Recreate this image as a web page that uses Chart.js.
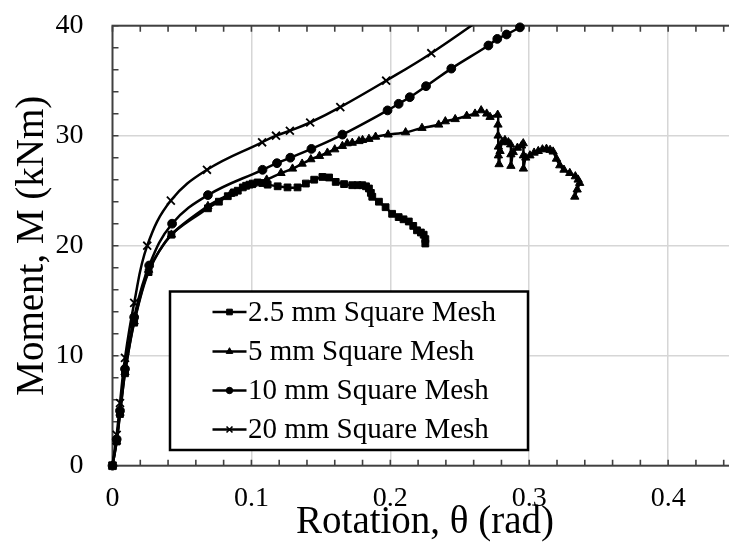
<!DOCTYPE html>
<html><head><meta charset="utf-8">
<script src="https://cdn.jsdelivr.net/npm/chart.js@4/dist/chart.umd.min.js"></script>
<style>
html,body{margin:0;padding:0;overflow:hidden;background:#fff;width:729px;height:554px}
#wrap{width:745px;height:554px}
</style>
</head><body><div id="wrap"><canvas id="c" width="745" height="554"></canvas></div>
<script>
// ---- data (rotation in rad, moment in kNm) ----
const seriesLabels = ['2.5 mm Square Mesh', '5 mm Square Mesh', '10 mm Square Mesh', '20 mm Square Mesh'];

const rot25 = [0,0.003,0.0054,0.009,0.0156,0.026,0.0424,0.0687,0.0766,0.083,0.0875,0.0902,0.0938,0.0962,0.0986,0.101,0.1045,0.108,0.1117,0.1189,0.126,0.1332,0.1392,0.1452,0.1511,0.1559,0.1607,0.1667,0.1726,0.1765,0.1798,0.1825,0.1846,0.186,0.187,0.1918,0.1966,0.2013,0.206,0.2095,0.2133,0.2165,0.2192,0.222,0.224,0.2252,0.2252];
const mom25 = [0,2.2,4.7,8.4,13.0,17.6,21.0,23.4,24.0,24.5,24.85,25.0,25.3,25.45,25.55,25.65,25.75,25.7,25.55,25.4,25.3,25.3,25.65,26.0,26.25,26.2,25.8,25.6,25.5,25.5,25.5,25.4,25.2,24.8,24.45,24.0,23.5,22.9,22.6,22.4,22.2,21.8,21.4,21.2,21.0,20.6,20.2];

const rot5 = [0,0.003,0.0054,0.009,0.0156,0.026,0.0424,0.0687,0.085,0.1,0.111,0.1213,0.1296,0.1365,0.1428,0.149,0.1547,0.16,0.1655,0.169,0.1726,0.1774,0.18,0.1846,0.1894,0.1984,0.211,0.2228,0.2348,0.2396,0.2467,0.255,0.261,0.2654,0.2694,0.2718,0.2773,0.2775,0.2776,0.2778,0.2778,0.2783,0.279,0.2805,0.2825,0.285,0.2866,0.2868,0.2868,0.2885,0.2915,0.2945,0.2957,0.2958,0.2958,0.2975,0.3005,0.3035,0.3065,0.3095,0.3124,0.315,0.3172,0.3196,0.322,0.325,0.3292,0.3332,0.3352,0.3363,0.3345,0.3328];
const mom5 = [0,2.2,4.8,8.5,13.1,17.8,21.0,23.6,24.7,25.5,26.0,26.6,27.0,27.45,27.85,28.15,28.45,28.75,29.06,29.3,29.35,29.5,29.6,29.7,29.9,30.1,30.3,30.7,31.0,31.3,31.5,31.8,32.0,32.3,32.0,31.7,31.9,31.0,30.0,29.0,28.2,27.4,28.6,29.4,29.6,29.4,29.2,28.3,27.25,28.5,28.9,29.1,29.3,28.2,27.0,28.0,28.2,28.45,28.6,28.75,28.8,28.7,28.55,27.9,27.3,26.9,26.6,26.3,26.0,25.7,25.1,24.45];

const rot10 = [0,0.003,0.0054,0.009,0.0156,0.0264,0.0429,0.0687,0.108,0.1184,0.128,0.1432,0.1655,0.198,0.206,0.214,0.2257,0.2439,0.2706,0.277,0.2837,0.2933];
const mom10 = [0,2.4,5.0,8.8,13.5,18.2,22.0,24.6,26.9,27.5,28.0,28.8,30.1,32.3,32.9,33.5,34.5,36.1,38.2,38.8,39.2,39.85];

const rot20 = [0,0.003,0.0054,0.009,0.0156,0.025,0.042,0.068,0.1077,0.1177,0.1277,0.1423,0.164,0.197,0.2295,0.272];
const mom20 = [0,2.8,5.7,9.8,14.8,20.0,24.1,26.9,29.4,30.0,30.45,31.2,32.6,35.0,37.5,41.2];

const xTickValues = [0, 0.1, 0.2, 0.3, 0.4];
const xTickLabels = ['0', '0.1', '0.2', '0.3', '0.4'];
const yTickValues = [0, 10, 20, 30, 40];
const yTickLabels = ['0', '10', '20', '30', '40'];

// ---- styling ----
const FONT = '"Liberation Serif", "Times New Roman", serif';
const pointStyles = ['rect', 'triangle', 'circle', 'crossRot'];
const pointRadii = [4.8, 4.8, 4.4, 5.6];
const legendRadii = [4.0, 3.8, 3.2, 4.2];
const tensions = [0.3, 0.25, 0.4, 0.4];

function pts(xs, ys) { return xs.map((x, i) => ({x: x, y: ys[i]})); }
const allData = [pts(rot25, mom25), pts(rot5, mom5), pts(rot10, mom10), pts(rot20, mom20)];

const datasets = allData.map((d, i) => ({
  label: seriesLabels[i],
  data: d,
  showLine: true,
  borderColor: '#000',
  backgroundColor: '#000',
  borderWidth: 2.5,
  pointStyle: pointStyles[i],
  pointRadius: pointRadii[i],
  pointHoverRadius: pointRadii[i],
  pointBackgroundColor: '#000',
  pointBorderColor: '#000',
  pointBorderWidth: i === 3 ? 1.8 : 1,
  tension: tensions[i],
  clip: i === 3 ? {left: 10, right: 10, top: 0, bottom: 10} : 10
}));

const frame = {
  id: 'frame',
  beforeDatasetsDraw(chart) {
    const {ctx, chartArea: a, scales: {x, y}} = chart;
    ctx.save();
    ctx.strokeStyle = '#404040';
    ctx.lineWidth = 1.6;
    ctx.beginPath();
    for (let v = 0; v <= 0.4501; v += 0.02) {
      const px = x.getPixelForValue(v);
      ctx.moveTo(px, a.bottom); ctx.lineTo(px, a.bottom - 6);
      ctx.moveTo(px, a.top); ctx.lineTo(px, a.top + 6);
    }
    for (let v = 0; v <= 40.01; v += 2) {
      const py = y.getPixelForValue(v);
      ctx.moveTo(a.left, py); ctx.lineTo(a.left + 6, py);
      ctx.moveTo(a.right, py); ctx.lineTo(a.right - 6, py);
    }
    ctx.stroke();
    ctx.lineWidth = 2;
    ctx.strokeRect(a.left, a.top, a.right - a.left, a.bottom - a.top);
    ctx.restore();
  },
  afterDraw(chart) {
    const ctx = chart.ctx;
    const box = {left: 170, top: 291.5, right: 528, bottom: 450};
    const rows = [312, 351.5, 390.5, 429.5];
    ctx.save();
    ctx.fillStyle = '#fff';
    ctx.fillRect(box.left, box.top, box.right - box.left, box.bottom - box.top);
    ctx.strokeStyle = '#000';
    ctx.lineWidth = 2.5;
    ctx.strokeRect(box.left, box.top, box.right - box.left, box.bottom - box.top);
    chart.data.datasets.forEach((ds, i) => {
      const yy = rows[i];
      ctx.strokeStyle = '#000';
      ctx.lineWidth = 2.5;
      ctx.beginPath(); ctx.moveTo(212.5, yy); ctx.lineTo(246.5, yy); ctx.stroke();
      ctx.fillStyle = '#000';
      ctx.lineWidth = i === 3 ? 1.6 : 1;
      Chart.helpers.drawPoint(ctx, {pointStyle: pointStyles[i], radius: legendRadii[i], rotation: 0, borderWidth: ctx.lineWidth}, 229.5, yy);
      ctx.font = '29px ' + FONT;
      ctx.textBaseline = 'middle';
      ctx.textAlign = 'left';
      ctx.fillText(ds.label, 248, yy + 1);
    });
    ctx.restore();
  }
};

new Chart(document.getElementById('c'), {
  type: 'scatter',
  data: {datasets: datasets},
  options: {
    responsive: false,
    animation: false,
    events: [],
    layout: {padding: {top: 25.7, right: 4.75, left: 0, bottom: 0}},
    plugins: {legend: {display: false}, tooltip: {enabled: false}},
    scales: {
      x: {
        type: 'linear', min: 0, max: 0.45,
        afterBuildTicks: s => { s.ticks = xTickValues.map(v => ({value: v})); },
        afterFit: s => { s.height = 88.3; },
        grid: {color: c => (c.tick && c.tick.value === 0) ? 'rgba(0,0,0,0)' : '#d6d6d6', lineWidth: 1.5, drawTicks: true, tickLength: 15, tickColor: 'rgba(0,0,0,0)'},
        border: {display: false},
        ticks: {callback: (v, i) => xTickLabels[i], color: '#000', font: {family: FONT, size: 28}, padding: 1, maxRotation: 0},
        title: {display: true, text: 'Rotation, θ (rad)', color: '#000', font: {family: FONT, size: 39}, padding: {top: 0, bottom: 8}}
      },
      y: {
        type: 'linear', min: 0, max: 40,
        afterBuildTicks: s => { s.ticks = yTickValues.map(v => ({value: v})); },
        afterFit: s => { s.width = 112.5; },
        grid: {color: c => (c.tick && c.tick.value === 0) ? 'rgba(0,0,0,0)' : '#d6d6d6', lineWidth: 1.5, drawTicks: true, tickLength: 28, tickColor: 'rgba(0,0,0,0)'},
        border: {display: false},
        ticks: {callback: (v, i) => yTickLabels[i], color: '#000', font: {family: FONT, size: 28}, padding: 1},
        title: {display: true, text: 'Moment, M (kNm)', color: '#000', font: {family: FONT, size: 39}, padding: {top: 9, bottom: 0}}
      }
    }
  },
  plugins: [frame]
});
</script>
</body></html>
